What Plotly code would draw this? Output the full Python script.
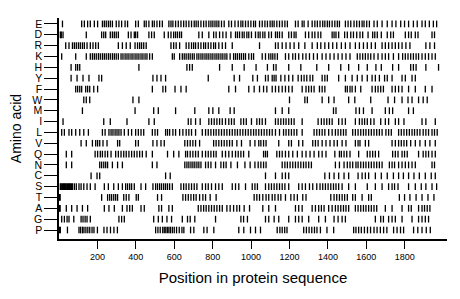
import plotly.graph_objects as go

amino_acids = ["E", "D", "R", "K", "H", "Y", "F", "W", "M", "I",
               "L", "V", "Q", "N", "C", "S", "T", "A", "G", "P"]
x_ticks = [200, 400, 600, 800, 1000, 1200, 1400, 1600, 1800]

pos_E = [18, 118, 132, 149, 163, 184, 201, 226, 236, 246, 257, 267, 278, 298, 312, 326, 344, 357, 399, 413, 444, 454, 468, 486, 496, 510, 524, 538, 572, 583, 593, 607, 621, 635, 649, 662, 676, 690, 704, 714, 725, 739, 753, 766, 780, 791, 801, 812, 822, 832, 846, 860, 884, 898, 916, 933, 947, 957, 971, 985, 999, 1013, 1023, 1044, 1058, 1072, 1085, 1099, 1110, 1120, 1134, 1148, 1162, 1176, 1189, 1231, 1245, 1266, 1276, 1297, 1318, 1332, 1345, 1359, 1373, 1384, 1397, 1408, 1422, 1436, 1449, 1460, 1491, 1505, 1519, 1536, 1550, 1564, 1578, 1588, 1602, 1616, 1640, 1657, 1682, 1709, 1734, 1754, 1779, 1799, 1820, 1845, 1865, 1890, 1907, 1928, 1949, 1966]
pos_D = [7, 12, 21, 142, 222, 233, 243, 267, 278, 288, 298, 309, 361, 375, 392, 399, 409, 468, 482, 496, 548, 569, 583, 597, 607, 617, 628, 638, 728, 746, 780, 805, 818, 836, 853, 870, 895, 919, 929, 940, 954, 964, 978, 988, 1002, 1023, 1037, 1047, 1061, 1072, 1092, 1106, 1127, 1137, 1148, 1162, 1196, 1210, 1224, 1234, 1283, 1300, 1318, 1332, 1349, 1363, 1422, 1432, 1442, 1456, 1487, 1501, 1519, 1533, 1550, 1567, 1581, 1609, 1633, 1644, 1657, 1678, 1709, 1727, 1741, 1803, 1820, 1834, 1855, 1869, 1942, 1955]
pos_R = [35, 52, 70, 80, 90, 101, 111, 122, 132, 146, 163, 177, 191, 205, 309, 330, 350, 371, 396, 409, 420, 430, 441, 454, 583, 597, 610, 628, 662, 676, 690, 701, 711, 725, 739, 753, 763, 777, 791, 805, 815, 832, 850, 867, 902, 1044, 1127, 1141, 1162, 1182, 1203, 1224, 1248, 1280, 1318, 1345, 1363, 1384, 1404, 1425, 1446, 1470, 1491, 1515, 1543, 1564, 1585, 1605, 1626, 1647, 1682, 1699, 1716, 1734, 1751, 1768, 1786, 1806, 1827, 1910, 1931, 1955]
pos_K = [14, 87, 142, 163, 174, 184, 194, 205, 215, 226, 236, 246, 257, 267, 278, 288, 298, 309, 323, 333, 344, 354, 364, 375, 385, 396, 406, 416, 427, 437, 448, 458, 472, 486, 590, 600, 628, 642, 652, 662, 673, 683, 694, 704, 718, 728, 739, 749, 760, 770, 780, 791, 801, 812, 822, 832, 843, 853, 864, 874, 891, 909, 919, 929, 940, 950, 961, 971, 988, 1002, 1013, 1058, 1075, 1092, 1103, 1113, 1124, 1137, 1179, 1196, 1217, 1231, 1248, 1269, 1286, 1304, 1325, 1345, 1370, 1390, 1411, 1432, 1453, 1474, 1494, 1515, 1553, 1567, 1581, 1595, 1609, 1623, 1640, 1661, 1682, 1699, 1716, 1741, 1768, 1789, 1803, 1817, 1831, 1845, 1859, 1872, 1890, 1907, 1924, 1942, 1959]
pos_H = [63, 87, 97, 108, 416, 666, 680, 694, 836, 902, 964, 1026, 1085, 1117, 1130, 1196, 1259, 1342, 1404, 1467, 1508, 1560, 1605, 1650, 1678, 1737, 1768, 1831, 1845, 1859, 1910, 1976]
pos_Y = [63, 94, 125, 156, 208, 222, 489, 510, 531, 555, 777, 912, 940, 1009, 1033, 1075, 1089, 1110, 1120, 1130, 1155, 1176, 1196, 1217, 1245, 1262, 1276, 1290, 1307, 1321, 1370, 1384, 1397, 1456, 1491, 1526, 1553, 1578, 1605, 1630, 1647, 1668, 1695, 1709, 1734, 1786, 1803, 1838, 1855]
pos_F = [87, 97, 108, 118, 139, 149, 160, 181, 201, 486, 541, 555, 604, 635, 662, 884, 919, 988, 1016, 1044, 1065, 1082, 1110, 1127, 1144, 1162, 1179, 1196, 1214, 1266, 1286, 1300, 1314, 1328, 1356, 1370, 1384, 1491, 1501, 1515, 1526, 1543, 1571, 1630, 1647, 1661, 1675, 1689, 1734, 1751, 1768, 1786, 1820, 1855, 1907, 1942]
pos_W = [129, 142, 160, 385, 416, 1200, 1280, 1293, 1370, 1404, 1432, 1508, 1540, 1623, 1713, 1747, 1786, 1817, 1838, 1872, 1896, 1917]
pos_M = [122, 396, 493, 517, 607, 707, 780, 801, 832, 891, 912, 1127, 1162, 1196, 1429, 1442, 1546, 1564, 1585, 1630, 1699, 1720, 1737, 1820, 1845]
pos_I = [21, 233, 267, 354, 468, 496, 673, 687, 711, 735, 780, 794, 808, 822, 836, 850, 867, 884, 898, 912, 947, 961, 975, 1002, 1030, 1044, 1058, 1075, 1127, 1141, 1155, 1169, 1182, 1196, 1210, 1224, 1266, 1349, 1366, 1380, 1394, 1408, 1422, 1456, 1474, 1491, 1543, 1564, 1578, 1591, 1605, 1623, 1640, 1675, 1699, 1716, 1751, 1768, 1796, 1890, 1910, 1959]
pos_L = [14, 28, 52, 66, 87, 108, 129, 153, 226, 240, 260, 271, 281, 292, 302, 312, 323, 340, 361, 378, 399, 413, 427, 441, 486, 500, 513, 555, 565, 576, 593, 607, 628, 645, 662, 676, 690, 711, 746, 763, 777, 791, 805, 818, 832, 846, 860, 874, 888, 902, 916, 929, 943, 957, 971, 985, 999, 1013, 1026, 1040, 1054, 1068, 1082, 1096, 1110, 1127, 1148, 1169, 1182, 1196, 1210, 1224, 1238, 1266, 1328, 1342, 1356, 1370, 1384, 1404, 1422, 1439, 1453, 1467, 1481, 1494, 1529, 1543, 1557, 1571, 1585, 1598, 1612, 1626, 1640, 1654, 1668, 1682, 1702, 1716, 1730, 1768, 1782, 1796, 1810, 1824, 1838, 1851, 1865, 1879, 1896, 1910, 1924, 1942, 1955, 1969]
pos_V = [115, 142, 174, 191, 201, 212, 229, 250, 305, 316, 399, 413, 489, 510, 531, 548, 655, 669, 683, 697, 711, 732, 805, 818, 832, 846, 860, 874, 888, 902, 926, 950, 995, 1020, 1040, 1051, 1065, 1078, 1144, 1196, 1210, 1248, 1269, 1321, 1335, 1349, 1370, 1390, 1411, 1432, 1449, 1474, 1494, 1543, 1557, 1567, 1595, 1612, 1734, 1751, 1768, 1782, 1796, 1810, 1831, 1855, 1879, 1907, 1931, 1959]
pos_Q = [38, 66, 188, 201, 215, 226, 240, 253, 271, 295, 309, 323, 337, 350, 364, 378, 392, 406, 420, 434, 454, 486, 565, 597, 624, 659, 669, 683, 697, 711, 725, 746, 763, 777, 791, 805, 818, 850, 867, 884, 902, 919, 933, 947, 961, 988, 1065, 1075, 1085, 1134, 1148, 1162, 1179, 1196, 1217, 1241, 1266, 1286, 1307, 1328, 1352, 1370, 1390, 1436, 1460, 1470, 1484, 1498, 1515, 1560, 1605, 1619, 1633, 1647, 1664, 1737, 1751, 1765, 1786, 1799, 1813, 1872, 1896, 1910, 1924, 1942, 1959]
pos_N = [38, 66, 212, 222, 233, 243, 253, 278, 305, 330, 486, 510, 655, 666, 676, 687, 697, 707, 718, 728, 739, 763, 777, 791, 815, 843, 857, 870, 895, 929, 968, 995, 1020, 1037, 1051, 1065, 1078, 1162, 1176, 1189, 1203, 1217, 1231, 1245, 1259, 1273, 1286, 1300, 1314, 1439, 1460, 1484, 1501, 1515, 1529, 1546, 1557, 1571, 1585, 1598, 1612, 1626, 1640, 1654, 1668, 1682, 1720, 1734, 1747, 1768, 1786, 1803, 1820, 1838, 1855, 1942, 1955]
pos_C = [167, 198, 212, 555, 579, 1075, 1127, 1162, 1179, 1196, 1384, 1408, 1432, 1456, 1484, 1508, 1557, 1578, 1595, 1612, 1647, 1678, 1709, 1741, 1768, 1793, 1820, 1848, 1876, 1907, 1938, 1959]
pos_S = [7, 12, 18, 23, 28, 33, 38, 44, 49, 54, 59, 65, 70, 80, 90, 104, 115, 129, 146, 163, 188, 236, 257, 285, 309, 330, 347, 357, 368, 378, 392, 427, 451, 489, 503, 513, 524, 534, 545, 555, 565, 576, 590, 635, 649, 662, 676, 690, 704, 718, 746, 763, 777, 794, 815, 832, 850, 902, 919, 936, 971, 1006, 1020, 1033, 1075, 1092, 1106, 1120, 1134, 1148, 1162, 1176, 1196, 1248, 1266, 1283, 1304, 1321, 1342, 1359, 1373, 1387, 1401, 1415, 1429, 1442, 1456, 1474, 1508, 1543, 1605, 1647, 1682, 1716, 1734, 1747, 1765, 1820, 1855, 1886, 1910, 1942, 1966]
pos_T = [2, 6, 222, 253, 264, 274, 285, 295, 305, 337, 350, 364, 402, 413, 513, 534, 645, 659, 673, 687, 701, 714, 732, 749, 763, 787, 818, 1016, 1030, 1044, 1061, 1078, 1092, 1110, 1124, 1141, 1155, 1179, 1207, 1224, 1241, 1269, 1286, 1415, 1432, 1446, 1460, 1474, 1487, 1501, 1529, 1543, 1578, 1612, 1626, 1772, 1799, 1827, 1859, 1890, 1921, 1952]
pos_A = [2, 6, 38, 66, 94, 122, 149, 236, 260, 288, 330, 354, 368, 382, 427, 444, 520, 534, 572, 590, 725, 739, 753, 766, 780, 794, 808, 822, 836, 850, 874, 891, 909, 926, 940, 964, 992, 1061, 1092, 1127, 1231, 1248, 1266, 1318, 1335, 1352, 1366, 1380, 1404, 1422, 1439, 1453, 1467, 1481, 1494, 1508, 1543, 1557, 1571, 1585, 1598, 1612, 1626, 1640, 1654, 1699, 1734, 1786, 1820, 1834, 1872, 1890, 1903, 1917, 1931]
pos_G = [14, 28, 42, 52, 77, 115, 125, 136, 146, 163, 312, 326, 340, 493, 517, 538, 562, 586, 642, 669, 683, 707, 815, 947, 961, 981, 1075, 1092, 1120, 1144, 1196, 1231, 1248, 1266, 1300, 1352, 1387, 1432, 1453, 1474, 1491, 1647, 1675, 1689, 1716, 1734, 1751, 1786, 1838, 1872, 1890, 1907, 1924]
pos_P = [3, 7, 44, 104, 112, 122, 130, 140, 150, 160, 172, 182, 200, 234, 250, 268, 286, 304, 503, 515, 527, 540, 548, 556, 564, 572, 580, 590, 600, 612, 626, 640, 650, 685, 702, 754, 771, 806, 936, 962, 997, 1023, 1049, 1136, 1150, 1162, 1175, 1187, 1274, 1288, 1302, 1316, 1330, 1343, 1361, 1395, 1430, 1534, 1546, 1560, 1574, 1590, 1606, 1622, 1640, 1656, 1673, 1690, 1707, 1742, 1760, 1778, 1794, 1846, 1868, 1890, 1912, 1933]

positions = {
    "E": pos_E, "D": pos_D, "R": pos_R, "K": pos_K, "H": pos_H,
    "Y": pos_Y, "F": pos_F, "W": pos_W, "M": pos_M, "I": pos_I,
    "L": pos_L, "V": pos_V, "Q": pos_Q, "N": pos_N, "C": pos_C,
    "S": pos_S, "T": pos_T, "A": pos_A, "G": pos_G, "P": pos_P,
}

FONT = "Liberation Sans, Arial, Helvetica, sans-serif"

fig = go.Figure()
for aa in amino_acids:
    xs = positions[aa]
    fig.add_trace(go.Scatter(
        x=xs, y=[aa] * len(xs), mode="markers",
        marker=dict(symbol="line-ns-open", size=4.8, color="black",
                    line=dict(color="black", width=1.3)),
        showlegend=False, hoverinfo="x+y",
    ))

fig.update_layout(
    width=460, height=299,
    margin=dict(l=51, r=21, t=10, b=68, autoexpand=False),
    paper_bgcolor="white", plot_bgcolor="white",
    font=dict(family=FONT, color="black"),
)
fig.update_xaxes(
    range=[0, 2020], tickmode="array", tickvals=x_ticks,
    showline=True, linecolor="black", linewidth=1.5,
    ticks="outside", ticklen=8, tickwidth=1.2, tickcolor="black",
    showgrid=False, zeroline=False, automargin=False,
    tickfont=dict(size=9, family=FONT),
    title=dict(text="Position in protein sequence", font=dict(size=15, family=FONT), standoff=12),
)
fig.update_yaxes(
    type="category", categoryorder="array", categoryarray=amino_acids,
    tickmode="array", tickvals=amino_acids, ticktext=amino_acids,
    range=[19.83, -0.55],
    showline=True, linecolor="black", linewidth=1.5,
    ticks="outside", ticklen=13, tickwidth=1.2, tickcolor="black",
    showgrid=False, zeroline=False, automargin=False,
    tickfont=dict(size=10.5, family=FONT),
    title=dict(text="Amino acid", font=dict(size=14, family=FONT), standoff=10),
)

fig.write_html("out.html")
